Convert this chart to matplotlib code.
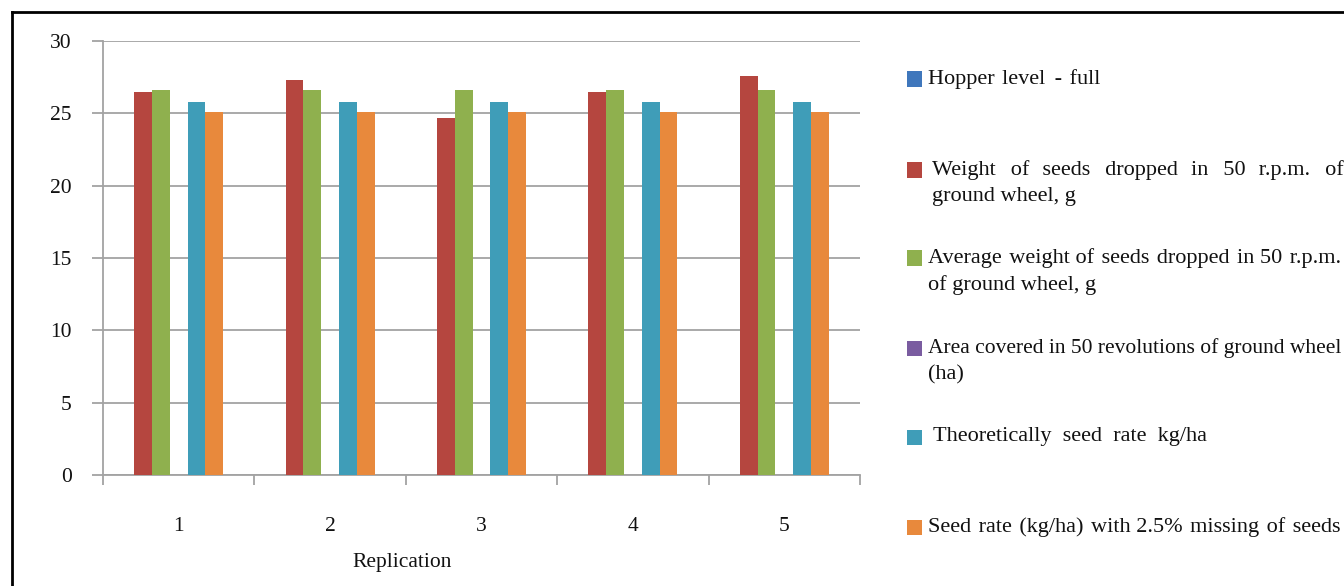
import matplotlib
matplotlib.use("Agg")
import matplotlib.pyplot as plt
import numpy as np
from matplotlib.patches import Rectangle
from matplotlib.lines import Line2D
from matplotlib.font_manager import FontProperties

plt.rcParams["font.family"] = ["Liberation Serif", "DejaVu Serif"]

# ---- data -------------------------------------------------------------
replications = ["1", "2", "3", "4", "5"]
series_names = [
    "Hopper level - full",
    "Weight of seeds dropped in 50 r.p.m. of\nground wheel, g",
    "Average weight of seeds dropped in 50 r.p.m.\nof ground wheel, g",
    "Area covered in 50 revolutions of ground wheel\n(ha)",
    "Theoretically seed rate kg/ha",
    "Seed rate (kg/ha) with 2.5% missing of seeds",
]
hopper_level = [0.0, 0.0, 0.0, 0.0, 0.0]
seed_weight = [26.5, 27.3, 24.7, 26.5, 27.6]
avg_seed_weight = [26.6, 26.6, 26.6, 26.6, 26.6]
area_covered = [0.0, 0.0, 0.0, 0.0, 0.0]
theoretical_rate = [25.8, 25.8, 25.8, 25.8, 25.8]
rate_with_missing = [25.1, 25.1, 25.1, 25.1, 25.1]
y_ticks = [0, 5, 10, 15, 20, 25, 30]

series_values = [hopper_level, seed_weight, avg_seed_weight,
                 area_covered, theoretical_rate, rate_with_missing]
colors = ["#3F77BC", "#B5463F", "#8FB04E", "#7A5CA0", "#3F9DB8", "#E8893C"]

# ---- figure -----------------------------------------------------------
W, H = 1344, 586
fig = plt.figure(figsize=(W / 100, H / 100), dpi=100)
fig.patch.set_facecolor("white")

def fx(px):
    return px / W

def fy(py):
    return 1 - py / H

ax = fig.add_axes([fx(103), fy(475), (860 - 103) / W, (475 - 41) / H])
grey = "#A3A3A3"

x = np.arange(len(replications))
slots = 7                      # clustered layout with 150% gap width
bar_w = 1 / (slots + 1.5)
for i, (vals, col) in enumerate(zip(series_values, colors)):
    ax.bar(x + (i - (slots - 1) / 2) * bar_w, vals, bar_w,
           color=col, linewidth=0, zorder=3, label=series_names[i])

ax.set_xlim(-0.5, len(replications) - 0.5)
ax.set_ylim(0, 30)
ax.set_yticks(y_ticks)
ax.set_yticklabels([str(v) for v in y_ticks])
ax.yaxis.grid(True, color=grey, linewidth=1.3, zorder=0)
ax.set_axisbelow(True)

for side in ("top", "right"):
    ax.spines[side].set_visible(False)
for side in ("left", "bottom"):
    ax.spines[side].set_color(grey)
    ax.spines[side].set_linewidth(1.3)

ax.tick_params(axis="y", length=8, width=1.3, color=grey, pad=14.5,
               labelsize=15.5, labelcolor="#111111")

# boundary ticks between replications, labels centred under each group
ax.set_xticks(np.arange(-0.5, len(replications)), labels=[""] * (len(replications) + 1))
ax.set_xticks(x, labels=replications, minor=True)
ax.tick_params(axis="x", which="major", length=7.5, width=1.3, color=grey)
ax.tick_params(axis="x", which="minor", length=0, pad=30,
               labelsize=15.5, labelcolor="#111111")

ax.set_xlabel("Replication", fontsize=15.5, color="#111111", va="center")
ax.xaxis.set_label_coords((402 - 103) / (860 - 103), -(562 - 475) / (475 - 41))

# ---- legend panel -----------------------------------------------------
legend_size = 16
renderer = fig.canvas.get_renderer()
HAIR = "\u200A"

def make_fp(size):
    return FontProperties(family=["Liberation Serif", "DejaVu Serif"], size=size)

def text_width(s, fp):
    return renderer.get_text_width_height_descent(s, fp, ismath=False)[0]

def layout_line(line, left, right, limit=W - 3):
    """Spread words evenly to reach `right`; shrink slightly if the line overruns `limit`."""
    size = legend_size
    fp = make_fp(size)
    if right is None:
        natural = text_width(line, fp)
        if left + natural > limit:
            size = legend_size * (limit - left) / natural
        return line, size
    words = line.split(" ")
    gaps = len(words) - 1
    unit = text_width("a" + HAIR + "a", fp) - text_width("aa", fp)
    if gaps <= 0 or unit <= 0.5:
        return line, size
    extra = int(round((right - left - text_width(line, fp)) / unit))
    if extra <= 0:
        return line, size
    out = words[0]
    for g, word in enumerate(words[1:]):
        n = round((g + 1) * extra / gaps) - round(g * extra / gaps)
        out += " " + HAIR * n + word
    return out, size

entry_top = [79, 170, 258, 348, 437, 527]
text_left = [928, 932, 928, 928, 933, 928]
line_right = [[1100], [1343, None], [1341, None], [None, None], [1207], [1341]]
line_step = 27
box = 15

for name, col, yc, xl, rights in zip(series_names, colors, entry_top,
                                     text_left, line_right):
    fig.add_artist(Rectangle((fx(907), fy(yc + box / 2)), box / W, box / H,
                             transform=fig.transFigure, facecolor=col,
                             edgecolor="none"))
    for k, line in enumerate(name.split("\n")):
        txt, size = layout_line(line, xl, rights[k])
        fig.text(fx(xl), fy(yc + k * line_step), txt,
                 fontproperties=make_fp(size), color="#111111",
                 ha="left", va="center")

# ---- frame ------------------------------------------------------------
frame_kw = dict(transform=fig.transFigure, color="black", linewidth=2.0,
                solid_capstyle="projecting")
fig.add_artist(Line2D([fx(12), fx(12)], [0, fy(12)], **frame_kw))
fig.add_artist(Line2D([fx(12), 1], [fy(12), fy(12)], **frame_kw))

fig.savefig("out.png", dpi=100)
